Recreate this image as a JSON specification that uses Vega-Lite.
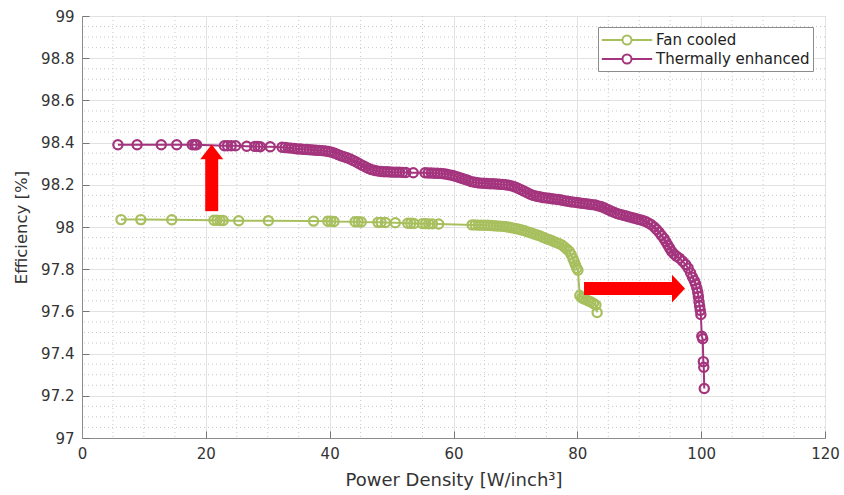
{
  "$schema": "https://vega.github.io/schema/vega-lite/v6.json",
  "width": 743,
  "height": 422,
  "autosize": {"type": "none"},
  "padding": {"left": 82, "top": 16, "right": 19, "bottom": 57},
  "background": "white",
  "config": {
    "font": "DejaVu Sans",
    "view": {"stroke": "#8c8c8c", "strokeWidth": 1},
    "axis": {
      "labelFont": "DejaVu Sans", "labelFontSize": 15, "labelColor": "#333333",
      "titleFont": "DejaVu Sans", "titleFontSize": 16.5, "titleFontWeight": "normal", "titleColor": "#333333",
      "domainColor": "#8c8c8c", "tickColor": "#8c8c8c", "gridColor": "#e2e2e2", "gridWidth": 1
    }
  },
  "datasets": {
    "minorx": [{"pd":5},{"pd":10},{"pd":15},{"pd":25},{"pd":30},{"pd":35},{"pd":45},{"pd":50},{"pd":55},{"pd":65},{"pd":70},{"pd":75},{"pd":85},{"pd":90},{"pd":95},{"pd":105},{"pd":110},{"pd":115}],
    "minory": [{"eff":97.05},{"eff":97.1},{"eff":97.15},{"eff":97.25},{"eff":97.3},{"eff":97.35},{"eff":97.45},{"eff":97.5},{"eff":97.55},{"eff":97.65},{"eff":97.7},{"eff":97.75},{"eff":97.85},{"eff":97.9},{"eff":97.95},{"eff":98.05},{"eff":98.1},{"eff":98.15},{"eff":98.25},{"eff":98.3},{"eff":98.35},{"eff":98.45},{"eff":98.5},{"eff":98.55},{"eff":98.65},{"eff":98.7},{"eff":98.75},{"eff":98.85},{"eff":98.9},{"eff":98.95}],
    "arrows": [
      {"pd": 20.95, "pd2": 20.95, "eff": 98.075, "eff2": 98.33},
      {"pd": 81.08, "pd2": 95.6, "eff": 97.708, "eff2": 97.708}
    ],
    "heads": [
      {"pd": 20.95, "eff": 98.356, "dir": "up"},
      {"pd": 96.34, "eff": 97.708, "dir": "right"}
    ],
    "curves": [
      {"s":"Fan cooled","pd":6.3,"eff":98.035},
      {"s":"Fan cooled","pd":9.5,"eff":98.035},
      {"s":"Fan cooled","pd":14.5,"eff":98.034},
      {"s":"Fan cooled","pd":21.3,"eff":98.032},
      {"s":"Fan cooled","pd":21.8,"eff":98.032},
      {"s":"Fan cooled","pd":22.3,"eff":98.031},
      {"s":"Fan cooled","pd":22.8,"eff":98.031},
      {"s":"Fan cooled","pd":25.3,"eff":98.03},
      {"s":"Fan cooled","pd":30.1,"eff":98.03},
      {"s":"Fan cooled","pd":37.4,"eff":98.028},
      {"s":"Fan cooled","pd":39.7,"eff":98.027},
      {"s":"Fan cooled","pd":40.2,"eff":98.027},
      {"s":"Fan cooled","pd":40.7,"eff":98.026},
      {"s":"Fan cooled","pd":44.1,"eff":98.025},
      {"s":"Fan cooled","pd":44.6,"eff":98.025},
      {"s":"Fan cooled","pd":45.1,"eff":98.024},
      {"s":"Fan cooled","pd":47.8,"eff":98.022},
      {"s":"Fan cooled","pd":48.3,"eff":98.022},
      {"s":"Fan cooled","pd":49.0,"eff":98.021},
      {"s":"Fan cooled","pd":50.6,"eff":98.02},
      {"s":"Fan cooled","pd":52.6,"eff":98.018},
      {"s":"Fan cooled","pd":53.1,"eff":98.018},
      {"s":"Fan cooled","pd":53.6,"eff":98.017},
      {"s":"Fan cooled","pd":55.0,"eff":98.016},
      {"s":"Fan cooled","pd":55.5,"eff":98.016},
      {"s":"Fan cooled","pd":56.0,"eff":98.015},
      {"s":"Fan cooled","pd":56.6,"eff":98.015},
      {"s":"Fan cooled","pd":57.6,"eff":98.014},
      {"s":"Fan cooled","pd":63.0,"eff":98.01},
      {"s":"Fan cooled","pd":63.5,"eff":98.01},
      {"s":"Fan cooled","pd":64.0,"eff":98.009},
      {"s":"Fan cooled","pd":64.5,"eff":98.009},
      {"s":"Fan cooled","pd":65.0,"eff":98.008},
      {"s":"Fan cooled","pd":65.5,"eff":98.008},
      {"s":"Fan cooled","pd":66.0,"eff":98.007},
      {"s":"Fan cooled","pd":66.5,"eff":98.006},
      {"s":"Fan cooled","pd":67.0,"eff":98.005},
      {"s":"Fan cooled","pd":67.5,"eff":98.004},
      {"s":"Fan cooled","pd":68.0,"eff":98.003},
      {"s":"Fan cooled","pd":68.5,"eff":98.001},
      {"s":"Fan cooled","pd":69.0,"eff":97.999},
      {"s":"Fan cooled","pd":69.5,"eff":97.996},
      {"s":"Fan cooled","pd":70.0,"eff":97.993},
      {"s":"Fan cooled","pd":70.5,"eff":97.99},
      {"s":"Fan cooled","pd":71.0,"eff":97.986},
      {"s":"Fan cooled","pd":71.5,"eff":97.982},
      {"s":"Fan cooled","pd":72.0,"eff":97.977},
      {"s":"Fan cooled","pd":72.5,"eff":97.972},
      {"s":"Fan cooled","pd":73.0,"eff":97.967},
      {"s":"Fan cooled","pd":73.5,"eff":97.962},
      {"s":"Fan cooled","pd":74.0,"eff":97.957},
      {"s":"Fan cooled","pd":74.5,"eff":97.951},
      {"s":"Fan cooled","pd":75.0,"eff":97.945},
      {"s":"Fan cooled","pd":75.5,"eff":97.94},
      {"s":"Fan cooled","pd":76.0,"eff":97.934},
      {"s":"Fan cooled","pd":76.5,"eff":97.928},
      {"s":"Fan cooled","pd":77.0,"eff":97.922},
      {"s":"Fan cooled","pd":77.5,"eff":97.915},
      {"s":"Fan cooled","pd":77.9,"eff":97.905},
      {"s":"Fan cooled","pd":78.3,"eff":97.895},
      {"s":"Fan cooled","pd":78.7,"eff":97.885},
      {"s":"Fan cooled","pd":79.0,"eff":97.87},
      {"s":"Fan cooled","pd":79.3,"eff":97.85},
      {"s":"Fan cooled","pd":79.5,"eff":97.835},
      {"s":"Fan cooled","pd":79.7,"eff":97.82},
      {"s":"Fan cooled","pd":79.9,"eff":97.805},
      {"s":"Fan cooled","pd":80.1,"eff":97.795},
      {"s":"Fan cooled","pd":80.4,"eff":97.675},
      {"s":"Fan cooled","pd":80.7,"eff":97.665},
      {"s":"Fan cooled","pd":81.0,"eff":97.66},
      {"s":"Fan cooled","pd":81.4,"eff":97.655},
      {"s":"Fan cooled","pd":81.8,"eff":97.65},
      {"s":"Fan cooled","pd":82.2,"eff":97.645},
      {"s":"Fan cooled","pd":82.6,"eff":97.638},
      {"s":"Fan cooled","pd":83.0,"eff":97.63},
      {"s":"Fan cooled","pd":83.2,"eff":97.595},
      {"s":"Thermally enhanced","pd":5.8,"eff":98.39},
      {"s":"Thermally enhanced","pd":8.9,"eff":98.39},
      {"s":"Thermally enhanced","pd":12.8,"eff":98.39},
      {"s":"Thermally enhanced","pd":15.3,"eff":98.39},
      {"s":"Thermally enhanced","pd":17.8,"eff":98.39},
      {"s":"Thermally enhanced","pd":18.2,"eff":98.39},
      {"s":"Thermally enhanced","pd":18.5,"eff":98.39},
      {"s":"Thermally enhanced","pd":23.0,"eff":98.385},
      {"s":"Thermally enhanced","pd":23.5,"eff":98.385},
      {"s":"Thermally enhanced","pd":24.1,"eff":98.385},
      {"s":"Thermally enhanced","pd":24.8,"eff":98.385},
      {"s":"Thermally enhanced","pd":26.6,"eff":98.383},
      {"s":"Thermally enhanced","pd":27.9,"eff":98.382},
      {"s":"Thermally enhanced","pd":28.4,"eff":98.382},
      {"s":"Thermally enhanced","pd":28.8,"eff":98.38},
      {"s":"Thermally enhanced","pd":30.4,"eff":98.38},
      {"s":"Thermally enhanced","pd":32.3,"eff":98.378},
      {"s":"Thermally enhanced","pd":32.8,"eff":98.377},
      {"s":"Thermally enhanced","pd":33.3,"eff":98.375},
      {"s":"Thermally enhanced","pd":33.8,"eff":98.374},
      {"s":"Thermally enhanced","pd":34.3,"eff":98.372},
      {"s":"Thermally enhanced","pd":34.8,"eff":98.37},
      {"s":"Thermally enhanced","pd":35.3,"eff":98.37},
      {"s":"Thermally enhanced","pd":35.8,"eff":98.368},
      {"s":"Thermally enhanced","pd":36.3,"eff":98.367},
      {"s":"Thermally enhanced","pd":36.8,"eff":98.366},
      {"s":"Thermally enhanced","pd":37.3,"eff":98.365},
      {"s":"Thermally enhanced","pd":37.8,"eff":98.364},
      {"s":"Thermally enhanced","pd":38.3,"eff":98.363},
      {"s":"Thermally enhanced","pd":38.8,"eff":98.362},
      {"s":"Thermally enhanced","pd":39.3,"eff":98.36},
      {"s":"Thermally enhanced","pd":39.8,"eff":98.358},
      {"s":"Thermally enhanced","pd":40.3,"eff":98.355},
      {"s":"Thermally enhanced","pd":40.8,"eff":98.35},
      {"s":"Thermally enhanced","pd":41.3,"eff":98.344},
      {"s":"Thermally enhanced","pd":41.8,"eff":98.338},
      {"s":"Thermally enhanced","pd":42.3,"eff":98.333},
      {"s":"Thermally enhanced","pd":42.8,"eff":98.328},
      {"s":"Thermally enhanced","pd":43.3,"eff":98.322},
      {"s":"Thermally enhanced","pd":43.8,"eff":98.315},
      {"s":"Thermally enhanced","pd":44.3,"eff":98.308},
      {"s":"Thermally enhanced","pd":44.8,"eff":98.3},
      {"s":"Thermally enhanced","pd":45.3,"eff":98.292},
      {"s":"Thermally enhanced","pd":45.8,"eff":98.284},
      {"s":"Thermally enhanced","pd":46.3,"eff":98.277},
      {"s":"Thermally enhanced","pd":46.8,"eff":98.272},
      {"s":"Thermally enhanced","pd":47.3,"eff":98.268},
      {"s":"Thermally enhanced","pd":47.8,"eff":98.265},
      {"s":"Thermally enhanced","pd":48.3,"eff":98.263},
      {"s":"Thermally enhanced","pd":48.8,"eff":98.262},
      {"s":"Thermally enhanced","pd":49.3,"eff":98.262},
      {"s":"Thermally enhanced","pd":49.8,"eff":98.261},
      {"s":"Thermally enhanced","pd":50.3,"eff":98.26},
      {"s":"Thermally enhanced","pd":50.8,"eff":98.26},
      {"s":"Thermally enhanced","pd":51.3,"eff":98.26},
      {"s":"Thermally enhanced","pd":51.8,"eff":98.259},
      {"s":"Thermally enhanced","pd":52.3,"eff":98.258},
      {"s":"Thermally enhanced","pd":53.5,"eff":98.257},
      {"s":"Thermally enhanced","pd":55.4,"eff":98.257},
      {"s":"Thermally enhanced","pd":55.9,"eff":98.256},
      {"s":"Thermally enhanced","pd":56.4,"eff":98.256},
      {"s":"Thermally enhanced","pd":56.9,"eff":98.255},
      {"s":"Thermally enhanced","pd":57.4,"eff":98.255},
      {"s":"Thermally enhanced","pd":57.9,"eff":98.254},
      {"s":"Thermally enhanced","pd":58.4,"eff":98.252},
      {"s":"Thermally enhanced","pd":58.9,"eff":98.25},
      {"s":"Thermally enhanced","pd":59.4,"eff":98.247},
      {"s":"Thermally enhanced","pd":59.9,"eff":98.244},
      {"s":"Thermally enhanced","pd":60.4,"eff":98.24},
      {"s":"Thermally enhanced","pd":60.9,"eff":98.235},
      {"s":"Thermally enhanced","pd":61.4,"eff":98.23},
      {"s":"Thermally enhanced","pd":61.9,"eff":98.225},
      {"s":"Thermally enhanced","pd":62.4,"eff":98.22},
      {"s":"Thermally enhanced","pd":62.9,"eff":98.215},
      {"s":"Thermally enhanced","pd":63.4,"eff":98.212},
      {"s":"Thermally enhanced","pd":63.9,"eff":98.21},
      {"s":"Thermally enhanced","pd":64.4,"eff":98.208},
      {"s":"Thermally enhanced","pd":64.9,"eff":98.207},
      {"s":"Thermally enhanced","pd":65.4,"eff":98.206},
      {"s":"Thermally enhanced","pd":65.9,"eff":98.205},
      {"s":"Thermally enhanced","pd":66.4,"eff":98.205},
      {"s":"Thermally enhanced","pd":66.9,"eff":98.204},
      {"s":"Thermally enhanced","pd":67.4,"eff":98.203},
      {"s":"Thermally enhanced","pd":67.9,"eff":98.202},
      {"s":"Thermally enhanced","pd":68.4,"eff":98.2},
      {"s":"Thermally enhanced","pd":68.9,"eff":98.198},
      {"s":"Thermally enhanced","pd":69.4,"eff":98.195},
      {"s":"Thermally enhanced","pd":69.9,"eff":98.19},
      {"s":"Thermally enhanced","pd":70.4,"eff":98.184},
      {"s":"Thermally enhanced","pd":70.9,"eff":98.177},
      {"s":"Thermally enhanced","pd":71.4,"eff":98.17},
      {"s":"Thermally enhanced","pd":71.9,"eff":98.162},
      {"s":"Thermally enhanced","pd":72.4,"eff":98.155},
      {"s":"Thermally enhanced","pd":72.9,"eff":98.15},
      {"s":"Thermally enhanced","pd":73.4,"eff":98.146},
      {"s":"Thermally enhanced","pd":73.9,"eff":98.143},
      {"s":"Thermally enhanced","pd":74.4,"eff":98.14},
      {"s":"Thermally enhanced","pd":74.9,"eff":98.138},
      {"s":"Thermally enhanced","pd":75.4,"eff":98.136},
      {"s":"Thermally enhanced","pd":75.9,"eff":98.134},
      {"s":"Thermally enhanced","pd":76.4,"eff":98.132},
      {"s":"Thermally enhanced","pd":76.9,"eff":98.13},
      {"s":"Thermally enhanced","pd":77.4,"eff":98.128},
      {"s":"Thermally enhanced","pd":77.9,"eff":98.125},
      {"s":"Thermally enhanced","pd":78.4,"eff":98.122},
      {"s":"Thermally enhanced","pd":78.9,"eff":98.12},
      {"s":"Thermally enhanced","pd":79.4,"eff":98.118},
      {"s":"Thermally enhanced","pd":79.9,"eff":98.116},
      {"s":"Thermally enhanced","pd":80.4,"eff":98.114},
      {"s":"Thermally enhanced","pd":80.9,"eff":98.112},
      {"s":"Thermally enhanced","pd":81.4,"eff":98.11},
      {"s":"Thermally enhanced","pd":81.9,"eff":98.108},
      {"s":"Thermally enhanced","pd":82.4,"eff":98.106},
      {"s":"Thermally enhanced","pd":82.9,"eff":98.104},
      {"s":"Thermally enhanced","pd":83.4,"eff":98.1},
      {"s":"Thermally enhanced","pd":83.9,"eff":98.096},
      {"s":"Thermally enhanced","pd":84.4,"eff":98.09},
      {"s":"Thermally enhanced","pd":84.9,"eff":98.083},
      {"s":"Thermally enhanced","pd":85.4,"eff":98.076},
      {"s":"Thermally enhanced","pd":85.9,"eff":98.07},
      {"s":"Thermally enhanced","pd":86.4,"eff":98.064},
      {"s":"Thermally enhanced","pd":86.9,"eff":98.06},
      {"s":"Thermally enhanced","pd":87.4,"eff":98.056},
      {"s":"Thermally enhanced","pd":87.9,"eff":98.052},
      {"s":"Thermally enhanced","pd":88.4,"eff":98.048},
      {"s":"Thermally enhanced","pd":88.9,"eff":98.044},
      {"s":"Thermally enhanced","pd":89.4,"eff":98.04},
      {"s":"Thermally enhanced","pd":89.9,"eff":98.036},
      {"s":"Thermally enhanced","pd":90.4,"eff":98.032},
      {"s":"Thermally enhanced","pd":90.9,"eff":98.027},
      {"s":"Thermally enhanced","pd":91.4,"eff":98.02},
      {"s":"Thermally enhanced","pd":91.9,"eff":98.012},
      {"s":"Thermally enhanced","pd":92.4,"eff":98.0},
      {"s":"Thermally enhanced","pd":92.8,"eff":97.988},
      {"s":"Thermally enhanced","pd":93.2,"eff":97.975},
      {"s":"Thermally enhanced","pd":93.6,"eff":97.96},
      {"s":"Thermally enhanced","pd":94.0,"eff":97.945},
      {"s":"Thermally enhanced","pd":94.3,"eff":97.93},
      {"s":"Thermally enhanced","pd":94.6,"eff":97.915},
      {"s":"Thermally enhanced","pd":94.9,"eff":97.9},
      {"s":"Thermally enhanced","pd":95.2,"eff":97.885},
      {"s":"Thermally enhanced","pd":95.6,"eff":97.872},
      {"s":"Thermally enhanced","pd":96.0,"eff":97.862},
      {"s":"Thermally enhanced","pd":96.5,"eff":97.852},
      {"s":"Thermally enhanced","pd":97.0,"eff":97.838},
      {"s":"Thermally enhanced","pd":97.5,"eff":97.822},
      {"s":"Thermally enhanced","pd":97.9,"eff":97.805},
      {"s":"Thermally enhanced","pd":98.3,"eff":97.782},
      {"s":"Thermally enhanced","pd":98.6,"eff":97.762},
      {"s":"Thermally enhanced","pd":98.9,"eff":97.745},
      {"s":"Thermally enhanced","pd":99.1,"eff":97.73},
      {"s":"Thermally enhanced","pd":99.3,"eff":97.71},
      {"s":"Thermally enhanced","pd":99.45,"eff":97.69},
      {"s":"Thermally enhanced","pd":99.55,"eff":97.67},
      {"s":"Thermally enhanced","pd":99.65,"eff":97.645},
      {"s":"Thermally enhanced","pd":99.75,"eff":97.625},
      {"s":"Thermally enhanced","pd":99.85,"eff":97.605},
      {"s":"Thermally enhanced","pd":99.95,"eff":97.585},
      {"s":"Thermally enhanced","pd":100.1,"eff":97.482},
      {"s":"Thermally enhanced","pd":100.25,"eff":97.47},
      {"s":"Thermally enhanced","pd":100.35,"eff":97.362},
      {"s":"Thermally enhanced","pd":100.42,"eff":97.335},
      {"s":"Thermally enhanced","pd":100.5,"eff":97.235}
    ]
  },
  "layer": [
    {
      "data": {"name": "minorx"},
      "mark": {"type": "rule", "stroke": "#c8c8c8", "strokeDash": [1, 3], "strokeWidth": 1},
      "encoding": {"x": {"field": "pd", "type": "quantitative"}}
    },
    {
      "data": {"name": "minory"},
      "mark": {"type": "rule", "stroke": "#c8c8c8", "strokeDash": [1, 3], "strokeWidth": 1},
      "encoding": {"y": {"field": "eff", "type": "quantitative"}}
    },
    {
      "data": {"name": "curves"},
      "mark": {"type": "line", "strokeWidth": 2, "point": {"filled": false, "size": 85, "strokeWidth": 2.2}},
      "encoding": {
        "x": {"field": "pd", "type": "quantitative", "scale": {"domain": [0, 120], "nice": false},
              "axis": {"title": "Power Density [W/inch³]", "titleFontSize": 18, "values": [0, 20, 40, 60, 80, 100, 120], "grid": true, "tickSize": -7, "tickColor": "#777777", "labelPadding": 15, "titlePadding": 10, "labelFlush": false}},
        "y": {"field": "eff", "type": "quantitative", "scale": {"domain": [97, 99], "nice": false, "zero": false},
              "axis": {"title": "Efficiency [%]", "values": [97, 97.2, 97.4, 97.6, 97.8, 98, 98.2, 98.4, 98.6, 98.8, 99], "format": ".1~f", "grid": true, "tickSize": -7, "tickColor": "#777777", "labelPadding": 15, "titlePadding": 11, "labelFlush": false}},
        "color": {"field": "s", "type": "nominal",
          "scale": {"domain": ["Fan cooled", "Thermally enhanced"], "range": ["#a8bf5e", "#a3347d"]},
          "legend": {"title": null, "orient": "none", "legendX": 516, "legendY": 11,
            "symbolType": "M-2.8,0L-0.5,0M0.5,0L2.8,0M-0.5,0A0.5,0.5,0,1,1,0.5,0A0.5,0.5,0,1,1,-0.5,0",
            "symbolSize": 324, "symbolStrokeWidth": 2, "symbolOffset": 16, "labelOffset": 19,
            "labelFont": "DejaVu Sans", "labelFontSize": 15, "labelColor": "#222222", "labelLimit": 400,
            "rowPadding": 0, "padding": 3, "strokeColor": "#8c8c8c", "fillColor": "white",
            "encode": {"symbols": {"update": {"fill": {"value": "transparent"}, "strokeWidth": {"value": 2}}}}}}
      }
    },
    {
      "data": {"name": "arrows"},
      "mark": {"type": "rule", "color": "#ff0000", "strokeWidth": 13, "strokeCap": "butt"},
      "encoding": {
        "x": {"field": "pd", "type": "quantitative"},
        "x2": {"field": "pd2"},
        "y": {"field": "eff", "type": "quantitative"},
        "y2": {"field": "eff2"}
      }
    },
    {
      "data": {"name": "heads"},
      "mark": {"type": "point", "filled": true, "fill": "#ff0000", "stroke": null, "opacity": 1, "size": 529},
      "encoding": {
        "x": {"field": "pd", "type": "quantitative"},
        "y": {"field": "eff", "type": "quantitative"},
        "shape": {"field": "dir", "type": "nominal", "legend": null,
          "scale": {"domain": ["up", "right"], "range": ["M-1,0.65L1,0.65L0,-0.65Z", "M-0.565,-1.2L-0.565,1.2L0.565,0Z"]}}
      }
    }
  ]
}
